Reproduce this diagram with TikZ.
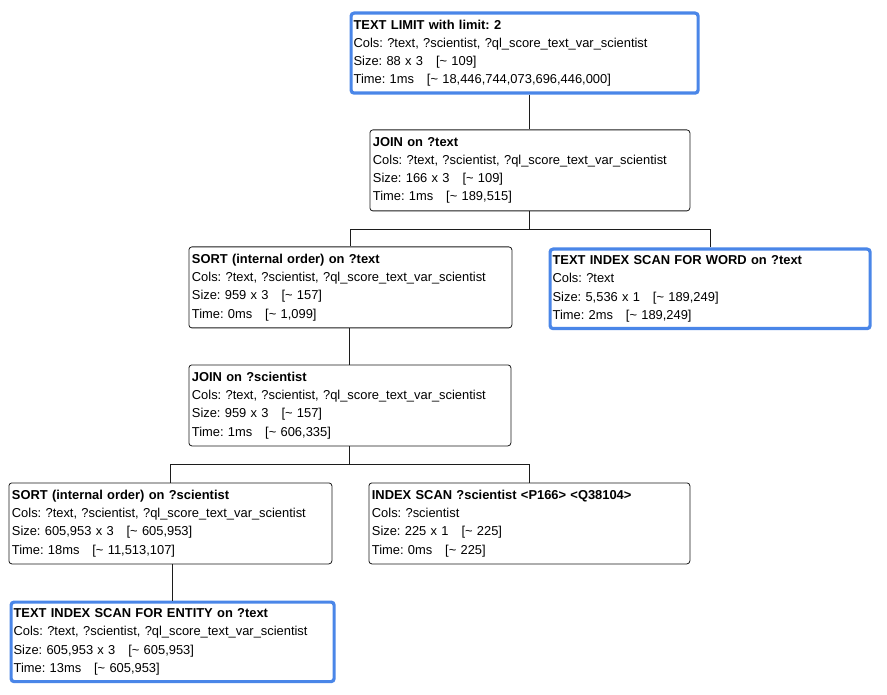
\documentclass[tikz,border=0pt]{standalone}
\usepackage{fontspec}
\setmainfont{Liberation Sans}
\usetikzlibrary{positioning}
\frenchspacing
\definecolor{qpBlue}{HTML}{4A86E8}
\definecolor{qpLine}{HTML}{1C1C1C}
\tikzset{
  opnode/.style={
    draw=qpLine, line width=0.8pt, rounded corners=3pt, fill=white,
    anchor=north west, align=left, inner xsep=3pt, inner ysep=0pt,
    minimum height=81pt, text width=316pt,
    font=\fontsize{12.9}{18.2}\selectfont
  },
  textop/.style={opnode, draw=qpBlue, line width=3.2pt, inner xsep=2.5pt, minimum height=79.5pt},
  treeline/.style={line width=0.9pt, qpLine}
}
\newcommand{\opinfo}[4]{\textbf{#1}\\Cols: #2\\Size: #3\\Time: #4}
\newcommand{\allcols}{?text, ?scientist, ?ql\_score\_text\_var\_scientist}
\newcommand{\est}[1]{\quad[\textasciitilde{} #1]}

\begin{document}
\begin{tikzpicture}[x=1pt, y=-1pt]
  \useasboundingbox[fill=white] (0,0) rectangle (887,695);
  \node[textop, text width=342pt, minimum height=80pt] (limit) at (349.5,11.5)
    {\opinfo{TEXT LIMIT with limit: 2}{\allcols}{88 x 3\est{109}}{1ms\est{18,446,744,073,696,446,000}}};
  \node[opnode, text width=314pt] (jointext) at (369.5,129.5)
    {\opinfo{JOIN on ?text}{\allcols}{166 x 3\est{109}}{1ms\est{189,515}}};
  \node[opnode, text width=317pt] (sorttext) at (188.5,246.5)
    {\opinfo{SORT (internal order) on ?text}{\allcols}{959 x 3\est{157}}{0ms\est{1,099}}};
  \node[textop, text width=315pt] (wordscan) at (548.5,247.5)
    {\opinfo{TEXT INDEX SCAN FOR WORD on ?text}{?text}{5,536 x 1\est{189,249}}{2ms\est{189,249}}};
  \node[opnode, text width=316pt] (joinsci) at (188.5,364.5)
    {\opinfo{JOIN on ?scientist}{\allcols}{959 x 3\est{157}}{1ms\est{606,335}}};
  \node[opnode, text width=317pt] (sortsci) at (8.5,482.5)
    {\opinfo{SORT (internal order) on ?scientist}{\allcols}{605,953 x 3\est{605,953}}{18ms\est{11,513,107}}};
  \node[opnode, text width=315pt] (idxscan) at (368.5,482.5)
    {\opinfo{INDEX SCAN ?scientist <P166> <Q38104>}{?scientist}{225 x 1\est{225}}{0ms\est{225}}};
  \node[textop, text width=318pt] (entityscan) at (9.5,600.5)
    {\opinfo{TEXT INDEX SCAN FOR ENTITY on ?text}{\allcols}{605,953 x 3\est{605,953}}{13ms\est{605,953}}};

  \draw[treeline] (jointext.north |- limit.south) -- (jointext.north);
  \draw[treeline] (jointext.south) -- ++(0,18) -| (sorttext.north);
  \draw[treeline] (jointext.south) -- ++(0,18) -| (wordscan.north);
  \draw[treeline] (joinsci.north |- sorttext.south) -- (joinsci.north);
  \draw[treeline] (joinsci.south) -- ++(0,18) -| (sortsci.north);
  \draw[treeline] (joinsci.south) -- ++(0,18) -| (idxscan.north);
  \draw[treeline] (entityscan.north |- sortsci.south) -- (entityscan.north);
\end{tikzpicture}
\end{document}
